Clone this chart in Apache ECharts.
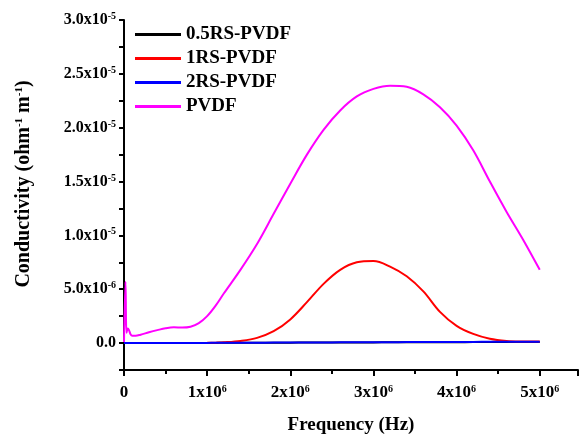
<!DOCTYPE html>
<html>
<head>
<meta charset="utf-8">
<script src="https://cdn.jsdelivr.net/npm/echarts@6/dist/echarts.min.js"></script>
<style>
html,body{margin:0;padding:0;background:#fff;}
#chart{width:579px;height:435px;}
</style>
</head>
<body>
<div id="chart"></div>
<script>
// Frequency (Hz, in units of 1e6)
var freqMHz = [0, 0.018, 0.03, 0.045, 0.06, 0.08, 0.1, 0.14, 0.2, 0.3, 0.4, 0.5, 0.6, 0.7, 0.8, 0.9, 1.0, 1.1, 1.2, 1.4, 1.6, 1.8, 2.0, 2.2, 2.4, 2.6, 2.8, 3.0, 3.2, 3.4, 3.6, 3.8, 4.0, 4.2, 4.4, 4.6, 4.8, 5.0];
// Conductivity values in units of 1e-6 ohm^-1 m^-1
var rs05 = [0, 0, 0, 0, 0, 0, 0, 0, 0, 0, 0.003, 0.004, 0.006, 0.008, 0.01, 0.012, 0.015, 0.018, 0.02, 0.025, 0.03, 0.035, 0.04, 0.045, 0.05, 0.055, 0.06, 0.065, 0.07, 0.074, 0.078, 0.082, 0.086, 0.09, 0.093, 0.096, 0.1, 0.1];
var rs1 = [0, 0, 0, 0, 0, 0, 0, 0, 0, 0, 0, 0, 0, 0, 0.005, 0.01, 0.02, 0.04, 0.07, 0.2, 0.48, 1.1, 2.2, 3.8, 5.5, 6.8, 7.5, 7.62, 7.1, 6.2, 4.8, 2.9, 1.6, 0.85, 0.4, 0.2, 0.15, 0.14];
var rs2 = [0, 0, 0, 0, 0, 0, 0, 0, 0, 0, 0.004, 0.006, 0.008, 0.01, 0.012, 0.015, 0.018, 0.021, 0.024, 0.03, 0.036, 0.042, 0.048, 0.054, 0.06, 0.066, 0.072, 0.078, 0.084, 0.09, 0.096, 0.1, 0.105, 0.11, 0.113, 0.116, 0.12, 0.12];
var pvdf = [0.1, 5.7, 0.95, 1.35, 1.2, 0.8, 0.68, 0.68, 0.78, 1.0, 1.2, 1.38, 1.47, 1.44, 1.52, 1.85, 2.5, 3.45, 4.6, 6.8, 9.2, 12.0, 14.8, 17.5, 19.8, 21.6, 22.9, 23.6, 23.9, 23.8, 23.1, 21.9, 20.2, 17.9, 15.0, 12.2, 9.6, 6.8];
var seriesNames = ['0.5RS-PVDF', '1RS-PVDF', '2RS-PVDF', 'PVDF'];
var seriesValues = [rs05, rs1, rs2, pvdf];
var seriesColors = ['#000000', '#ff0000', '#0000ff', '#ff00ff'];
var yTickLabels = {"0": "0.0", "5": "5.0x10{s|-6}", "10": "1.0x10{s|-5}", "15": "1.5x10{s|-5}", "20": "2.0x10{s|-5}", "25": "2.5x10{s|-5}", "30": "3.0x10{s|-5}"};
var xTickLabels = {"0": "0", "1": "1x10{s|6}", "2": "2x10{s|6}", "3": "3x10{s|6}", "4": "4x10{s|6}", "5": "5x10{s|6}"};

var FONT = '"Liberation Serif","Times New Roman",serif';
var chart = echarts.init(document.getElementById('chart'), null, {renderer: 'canvas'});

var series = seriesNames.map(function (name, i) {
  return {
    name: name,
    type: 'line',
    data: freqMHz.map(function (f, j) { return [f * 1e6, seriesValues[i][j] * 1e-6]; }),
    showSymbol: false,
    symbol: 'none',
    smooth: 0.35,
    lineStyle: {color: seriesColors[i], width: 2},
    itemStyle: {color: seriesColors[i]},
    z: 2 + i,
    animation: false
  };
});

function keyOf(v, unit) {
  return String(Math.round(v / unit * 1000) / 1000);
}

chart.setOption({
  animation: false,
  backgroundColor: '#fff',
  grid: {left: 124, right: 1, top: 20, bottom: 65, containLabel: false, outerBoundsMode: 'none'},
  legend: {
    orient: 'vertical',
    left: 130,
    top: 20,
    itemWidth: 46,
    itemHeight: 3,
    itemGap: 5,
    icon: 'rect',
    textStyle: {fontFamily: FONT, fontWeight: 'bold', fontSize: 19, color: '#000'},
    data: seriesNames
  },
  xAxis: {
    type: 'value',
    min: 0,
    max: 5.46e6,
    interval: 1e6,
    name: 'Frequency (Hz)',
    nameLocation: 'middle',
    nameGap: 46,
    nameTextStyle: {fontFamily: FONT, fontWeight: 'bold', fontSize: 19, color: '#000'},
    axisLine: {show: true, onZero: false, lineStyle: {color: '#000', width: 2}},
    axisTick: {show: true, inside: false, length: 6, lineStyle: {color: '#000', width: 2}},
    minorTick: {show: true, splitNumber: 2, length: 4, lineStyle: {color: '#000', width: 2}},
    splitLine: {show: false},
    axisLabel: {
      margin: 14,
      color: '#000',
      fontFamily: FONT, fontWeight: 'bold', fontSize: 17,
      showMaxLabel: false,
      formatter: function (v) { var k = keyOf(v, 1e6); return xTickLabels[k] !== undefined ? xTickLabels[k] : ''; },
      rich: {s: {fontFamily: FONT, fontWeight: 'bold', fontSize: 10, verticalAlign: 'top', padding: [0, 0, 7, 0], color: '#000'}}
    }
  },
  yAxis: {
    type: 'value',
    min: -2.5e-6,
    max: 3.0e-5,
    interval: 2.5e-6,
    name: 'Conductivity (ohm{s|-1} m{s|-1})',
    nameLocation: 'middle',
    nameGap: 90,
    nameRotate: 90,
    nameTextStyle: {
      fontFamily: FONT, fontWeight: 'bold', fontSize: 20, color: '#000',
      padding: [0, 0, 0, 22],
      rich: {s: {fontFamily: FONT, fontWeight: 'bold', fontSize: 11, verticalAlign: 'top', padding: [0, 0, 9, 0], color: '#000'}}
    },
    axisLine: {show: true, onZero: false, lineStyle: {color: '#000', width: 2}},
    axisTick: {show: true, inside: false, length: 5, lineStyle: {color: '#000', width: 2}},
    splitLine: {show: false},
    axisLabel: {
      margin: 8,
      color: '#000',
      fontFamily: FONT, fontWeight: 'bold', fontSize: 16,
      formatter: function (v) { var k = keyOf(v, 1e-6); return yTickLabels[k] !== undefined ? yTickLabels[k] : ''; },
      rich: {s: {fontFamily: FONT, fontWeight: 'bold', fontSize: 10, verticalAlign: 'top', padding: [0, 0, 7, 0], color: '#000'}}
    }
  },
  series: series
});
</script>
</body>
</html>
